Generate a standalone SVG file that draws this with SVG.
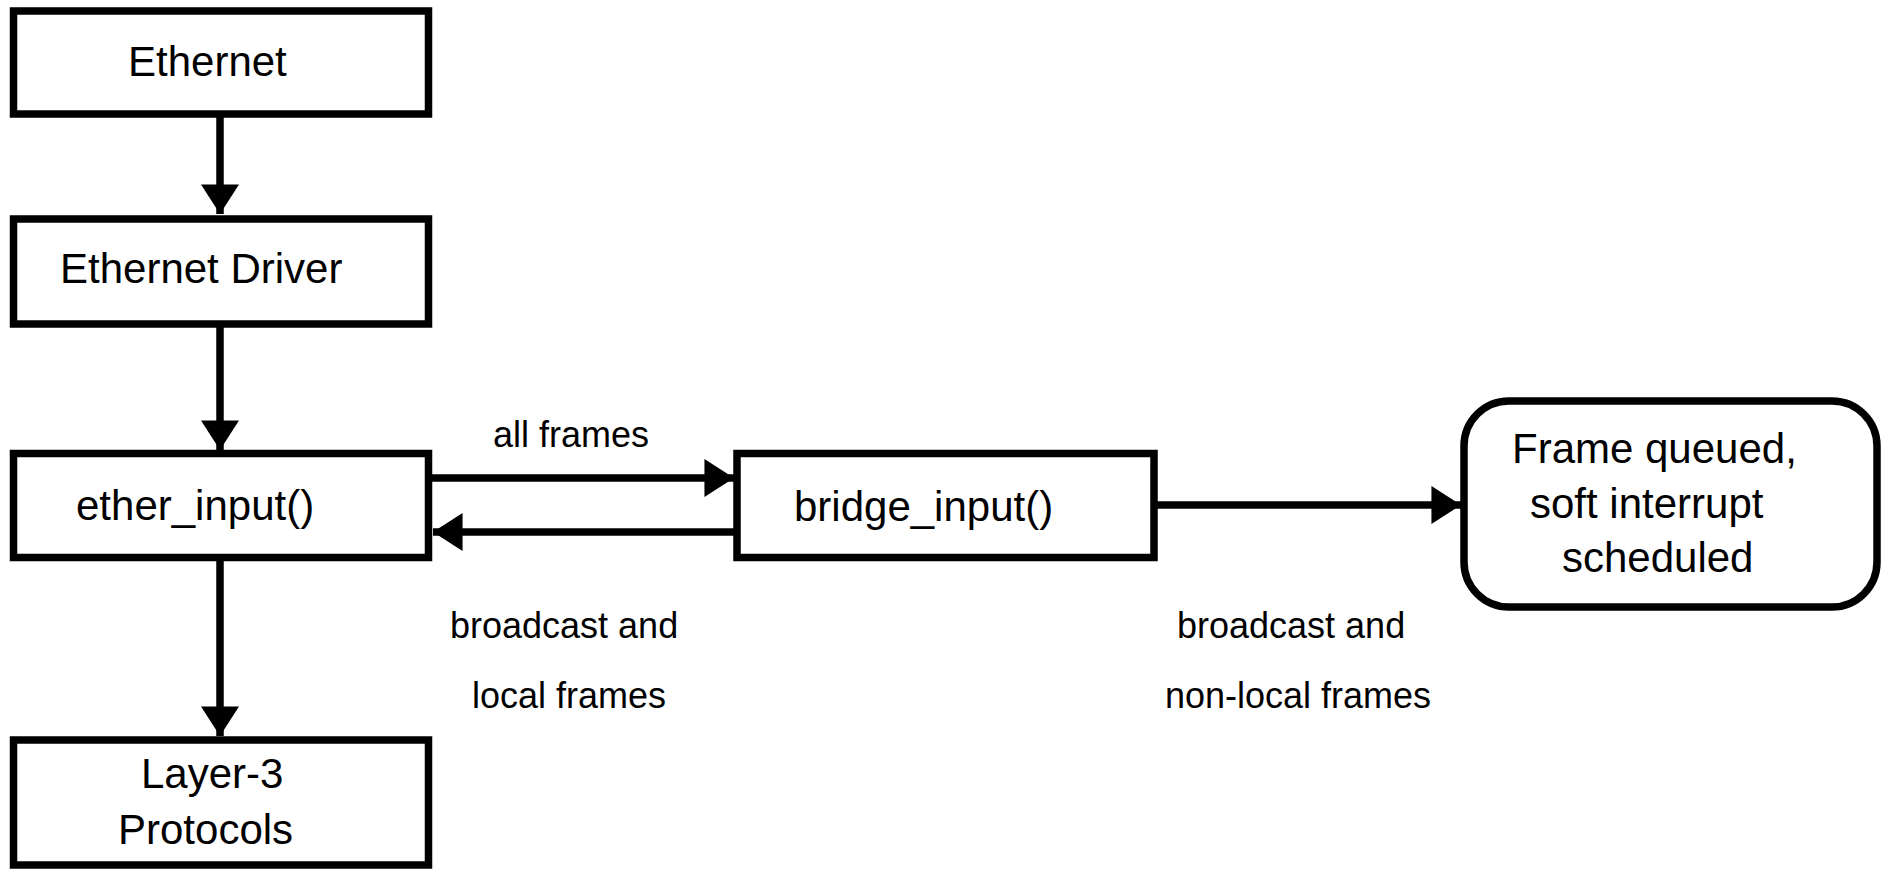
<svg xmlns="http://www.w3.org/2000/svg" width="1885" height="869" viewBox="0 0 1885 869">
<style>
.box{fill:#fff;stroke:#000;stroke-width:7.5}
.t{font-family:"Liberation Sans",Arial,sans-serif;font-size:42px;fill:#000}
.l{font-family:"Liberation Sans",Arial,sans-serif;font-size:36px;fill:#000}
.c{fill:none;stroke:#000;stroke-width:7.5}
</style>
<defs>
<marker id="ah" markerUnits="userSpaceOnUse" markerWidth="30" markerHeight="38" viewBox="0 0 28 36" refX="28" refY="18" orient="auto">
<polygon points="0,0 28,18 0,36" fill="#000"/>
</marker>
</defs>
<rect width="1885" height="869" fill="#fff"/>
<g id="connectors">
<line class="c" x1="220" y1="114" x2="220" y2="214" marker-end="url(#ah)"/>
<line class="c" x1="220" y1="324" x2="220" y2="450" marker-end="url(#ah)"/>
<line class="c" x1="220" y1="558" x2="220" y2="736" marker-end="url(#ah)"/>
<line class="c" x1="423" y1="478" x2="734" y2="478" marker-end="url(#ah)"/>
<line class="c" x1="737" y1="532" x2="433" y2="532" marker-end="url(#ah)"/>
<line class="c" x1="1154" y1="505" x2="1461" y2="505" marker-end="url(#ah)"/>
</g>
<g id="ethernet">
<rect class="box" x="13.5" y="11" width="415" height="103"/>
<text class="t" x="128" y="76">Ethernet</text>
</g>
<g id="ethernet-driver">
<rect class="box" x="13.5" y="219" width="415" height="105"/>
<text class="t" x="60" y="283">Ethernet Driver</text>
</g>
<g id="ether-input">
<rect class="box" x="13.5" y="453.5" width="415" height="104"/>
<text class="t" x="76" y="520">ether_input()</text>
</g>
<g id="layer3">
<rect class="box" x="13.5" y="740" width="415" height="125"/>
<text class="t" x="141" y="788">Layer-3</text>
<text class="t" x="118" y="844">Protocols</text>
</g>
<g id="bridge-input">
<rect class="box" x="737" y="453.5" width="417" height="104"/>
<text class="t" x="794" y="521">bridge_input()</text>
</g>
<g id="frame-queued">
<rect class="box" x="1464" y="401" width="413" height="206" rx="45" ry="45"/>
<text class="t" x="1512" y="463">Frame queued,</text>
<text class="t" x="1530" y="518">soft interrupt</text>
<text class="t" x="1562" y="572">scheduled</text>
</g>
<g id="labels">
<text class="l" x="493" y="447">all frames</text>
<text class="l" x="450" y="638">broadcast and</text>
<text class="l" x="472" y="708">local frames</text>
<text class="l" x="1177" y="638">broadcast and</text>
<text class="l" x="1165" y="708">non-local frames</text>
</g>
</svg>
